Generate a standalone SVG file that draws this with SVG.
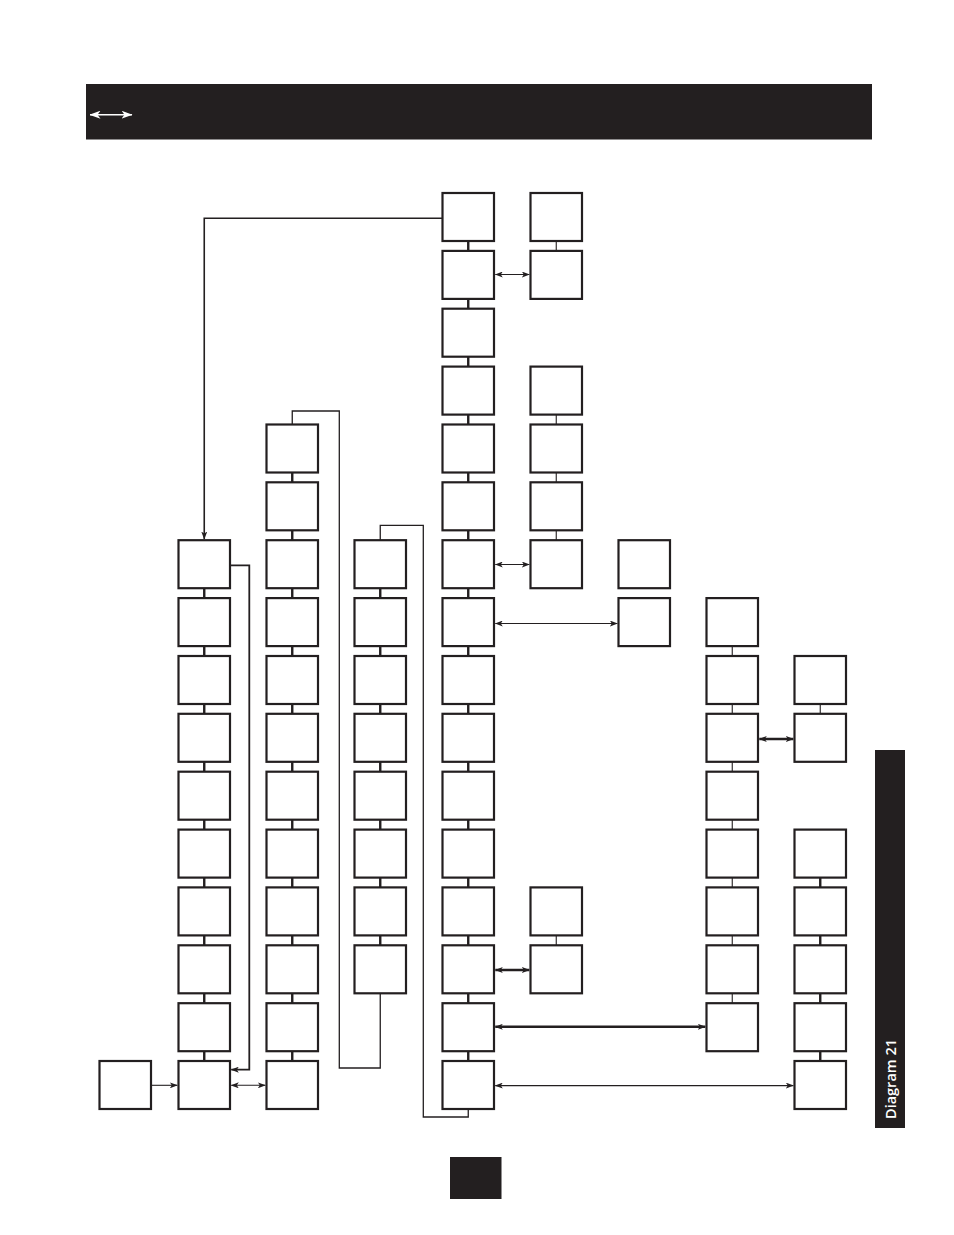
<svg xmlns="http://www.w3.org/2000/svg" width="954" height="1235" viewBox="0 0 954 1235">
<style>
.b{fill:#fff;stroke:#231f20;stroke-width:2.2}
.tk{stroke:#231f20;stroke-width:2.4;fill:none}
.tn{stroke:#231f20;stroke-width:1.1;fill:none}
.lp{stroke:#231f20;stroke-width:1.3;fill:none}
.a1{stroke:#231f20;stroke-width:1.1;fill:none;marker-start:url(#ah);marker-end:url(#ah)}
.a2{stroke:#231f20;stroke-width:2.6;fill:none;marker-start:url(#ah);marker-end:url(#ah)}
.dk{fill:#231f20}
</style>
<defs>
<marker id="ah" viewBox="0 0 8 6" refX="7.5" refY="3" markerWidth="8" markerHeight="6" markerUnits="userSpaceOnUse" orient="auto-start-reverse">
<path d="M0,0 L8,3 L0,6 L2,3 Z" fill="#231f20"/>
</marker>
<marker id="wh" viewBox="0 0 11 8" refX="10.5" refY="4" markerWidth="11" markerHeight="8" markerUnits="userSpaceOnUse" orient="auto-start-reverse">
<path d="M0,0 L11,4 L0,8 L3,4 Z" fill="#fff"/>
</marker>
</defs>
<rect width="954" height="1235" fill="#fff"/>
<g id="header">
<rect x="86" y="84" width="786" height="55.5" class="dk"/>
<line x1="90" y1="114.7" x2="132" y2="114.7" stroke="#fff" stroke-width="1.6" marker-start="url(#wh)" marker-end="url(#wh)"/>
</g>
<g id="sidebar">
<rect x="875" y="750" width="30" height="378" class="dk"/>
<text transform="translate(896,1119) rotate(-90)" font-family="'Open Sans','DejaVu Sans',sans-serif" font-size="14.5" font-weight="600" fill="#fff">Diagram 21</text>
</g>
<g id="page"><rect x="450" y="1157" width="51.5" height="42" class="dk"/></g>
<g id="connectors">
<!-- vertical links col 179 -->
<path class="tk" d="M204.25,588.2V598.1M204.25,646.1V656M204.25,704V713.8M204.25,761.8V771.7M204.25,819.7V829.6M204.25,877.6V887.4M204.25,935.4V945.3M204.25,993.3V1003.2M204.25,1051.2V1061"/>
<!-- col 267 -->
<path class="tk" d="M292.25,472.5V482.3M292.25,530.3V540.2M292.25,588.2V598.1M292.25,646.1V656M292.25,704V713.8M292.25,761.8V771.7M292.25,819.7V829.6M292.25,877.6V887.4M292.25,935.4V945.3M292.25,993.3V1003.2M292.25,1051.2V1061"/>
<!-- col 355 -->
<path class="tk" d="M380.25,588.2V598.1M380.25,646.1V656M380.25,704V713.8M380.25,761.8V771.7M380.25,819.7V829.6M380.25,877.6V887.4M380.25,935.4V945.3"/>
<!-- col 443 -->
<path class="tk" d="M468.25,241V250.9M468.25,298.9V308.7M468.25,356.7V366.6M468.25,414.6V424.5M468.25,472.5V482.3M468.25,530.3V540.2M468.25,588.2V598.1M468.25,646.1V656M468.25,704V713.8M468.25,761.8V771.7M468.25,819.7V829.6M468.25,877.6V887.4M468.25,935.4V945.3M468.25,993.3V1003.2M468.25,1051.2V1061"/>
<!-- col 531 -->
<path class="tn" d="M556.25,241V250.9M556.25,414.6V424.5M556.25,472.5V482.3M556.25,530.3V540.2M556.25,935.4V945.3"/>
<!-- col 707 -->
<path class="tn" d="M732.25,646.1V656M732.25,704V713.8M732.25,761.8V771.7M732.25,819.7V829.6M732.25,877.6V887.4M732.25,935.4V945.3M732.25,993.3V1003.2"/>
<!-- col 795 -->
<path class="tn" d="M820.25,704V713.8"/>
<path class="tk" d="M820.25,877.6V887.4M820.25,935.4V945.3M820.25,993.3V1003.2M820.25,1051.2V1061"/>
<!-- feedback from top -->
<path d="M442.5,218.3H204.25V539" stroke="#231f20" stroke-width="1.6" fill="none" marker-end="url(#ah)"/>
<!-- loop 179 -->
<path d="M230,565.3H249.3V1069.7H231.3" stroke="#231f20" stroke-width="1.8" fill="none" marker-end="url(#ah)"/>
<!-- loop 267-355 -->
<path class="lp" d="M292.25,424.5V411H339.3V1068H380.25V993.3"/>
<!-- loop 355-443 -->
<path class="lp" d="M380.25,540.2V525.3H423.3V1117H468.25V1109"/>
<!-- horizontal arrows -->
<line class="a1" x1="495.3" y1="274.5" x2="529.3" y2="274.5"/>
<line class="a1" x1="495.3" y1="564.5" x2="529.3" y2="564.5"/>
<line class="a1" x1="495.3" y1="623.5" x2="617.3" y2="623.5"/>
<line class="a2" x1="759.3" y1="739" x2="793.3" y2="739"/>
<line class="a2" x1="495.3" y1="970" x2="529.3" y2="970"/>
<line class="a2" x1="495.3" y1="1026.8" x2="705.3" y2="1026.8"/>
<line class="a1" x1="495.3" y1="1085.6" x2="793.3" y2="1085.6"/>
<line x1="151" y1="1085.3" x2="177.3" y2="1085.3" stroke="#231f20" stroke-width="1.1" marker-end="url(#ah)"/>
<line class="a1" x1="231.3" y1="1085.3" x2="265.3" y2="1085.3"/>
</g>
<g id="nodes">
<rect id="n100_15" class="b" x="99.5" y="1061" width="51.5" height="48"/>
<g id="col179">
<rect class="b" x="178.5" y="540.2" width="51.5" height="48"/>
<rect class="b" x="178.5" y="598.1" width="51.5" height="48"/>
<rect class="b" x="178.5" y="656" width="51.5" height="48"/>
<rect class="b" x="178.5" y="713.8" width="51.5" height="48"/>
<rect class="b" x="178.5" y="771.7" width="51.5" height="48"/>
<rect class="b" x="178.5" y="829.6" width="51.5" height="48"/>
<rect class="b" x="178.5" y="887.4" width="51.5" height="48"/>
<rect class="b" x="178.5" y="945.3" width="51.5" height="48"/>
<rect class="b" x="178.5" y="1003.2" width="51.5" height="48"/>
<rect class="b" x="178.5" y="1061" width="51.5" height="48"/>
</g>
<g id="col267">
<rect class="b" x="266.5" y="424.5" width="51.5" height="48"/>
<rect class="b" x="266.5" y="482.3" width="51.5" height="48"/>
<rect class="b" x="266.5" y="540.2" width="51.5" height="48"/>
<rect class="b" x="266.5" y="598.1" width="51.5" height="48"/>
<rect class="b" x="266.5" y="656" width="51.5" height="48"/>
<rect class="b" x="266.5" y="713.8" width="51.5" height="48"/>
<rect class="b" x="266.5" y="771.7" width="51.5" height="48"/>
<rect class="b" x="266.5" y="829.6" width="51.5" height="48"/>
<rect class="b" x="266.5" y="887.4" width="51.5" height="48"/>
<rect class="b" x="266.5" y="945.3" width="51.5" height="48"/>
<rect class="b" x="266.5" y="1003.2" width="51.5" height="48"/>
<rect class="b" x="266.5" y="1061" width="51.5" height="48"/>
</g>
<g id="col355">
<rect class="b" x="354.5" y="540.2" width="51.5" height="48"/>
<rect class="b" x="354.5" y="598.1" width="51.5" height="48"/>
<rect class="b" x="354.5" y="656" width="51.5" height="48"/>
<rect class="b" x="354.5" y="713.8" width="51.5" height="48"/>
<rect class="b" x="354.5" y="771.7" width="51.5" height="48"/>
<rect class="b" x="354.5" y="829.6" width="51.5" height="48"/>
<rect class="b" x="354.5" y="887.4" width="51.5" height="48"/>
<rect class="b" x="354.5" y="945.3" width="51.5" height="48"/>
</g>
<g id="col443">
<rect class="b" x="442.5" y="193" width="51.5" height="48"/>
<rect class="b" x="442.5" y="250.9" width="51.5" height="48"/>
<rect class="b" x="442.5" y="308.7" width="51.5" height="48"/>
<rect class="b" x="442.5" y="366.6" width="51.5" height="48"/>
<rect class="b" x="442.5" y="424.5" width="51.5" height="48"/>
<rect class="b" x="442.5" y="482.3" width="51.5" height="48"/>
<rect class="b" x="442.5" y="540.2" width="51.5" height="48"/>
<rect class="b" x="442.5" y="598.1" width="51.5" height="48"/>
<rect class="b" x="442.5" y="656" width="51.5" height="48"/>
<rect class="b" x="442.5" y="713.8" width="51.5" height="48"/>
<rect class="b" x="442.5" y="771.7" width="51.5" height="48"/>
<rect class="b" x="442.5" y="829.6" width="51.5" height="48"/>
<rect class="b" x="442.5" y="887.4" width="51.5" height="48"/>
<rect class="b" x="442.5" y="945.3" width="51.5" height="48"/>
<rect class="b" x="442.5" y="1003.2" width="51.5" height="48"/>
<rect class="b" x="442.5" y="1061" width="51.5" height="48"/>
</g>
<g id="col531">
<rect class="b" x="530.5" y="193" width="51.5" height="48"/>
<rect class="b" x="530.5" y="250.9" width="51.5" height="48"/>
<rect class="b" x="530.5" y="366.6" width="51.5" height="48"/>
<rect class="b" x="530.5" y="424.5" width="51.5" height="48"/>
<rect class="b" x="530.5" y="482.3" width="51.5" height="48"/>
<rect class="b" x="530.5" y="540.2" width="51.5" height="48"/>
<rect class="b" x="530.5" y="887.4" width="51.5" height="48"/>
<rect class="b" x="530.5" y="945.3" width="51.5" height="48"/>
</g>
<g id="col619">
<rect class="b" x="618.5" y="540.2" width="51.5" height="48"/>
<rect class="b" x="618.5" y="598.1" width="51.5" height="48"/>
</g>
<g id="col707">
<rect class="b" x="706.5" y="598.1" width="51.5" height="48"/>
<rect class="b" x="706.5" y="656" width="51.5" height="48"/>
<rect class="b" x="706.5" y="713.8" width="51.5" height="48"/>
<rect class="b" x="706.5" y="771.7" width="51.5" height="48"/>
<rect class="b" x="706.5" y="829.6" width="51.5" height="48"/>
<rect class="b" x="706.5" y="887.4" width="51.5" height="48"/>
<rect class="b" x="706.5" y="945.3" width="51.5" height="48"/>
<rect class="b" x="706.5" y="1003.2" width="51.5" height="48"/>
</g>
<g id="col795">
<rect class="b" x="794.5" y="656" width="51.5" height="48"/>
<rect class="b" x="794.5" y="713.8" width="51.5" height="48"/>
<rect class="b" x="794.5" y="829.6" width="51.5" height="48"/>
<rect class="b" x="794.5" y="887.4" width="51.5" height="48"/>
<rect class="b" x="794.5" y="945.3" width="51.5" height="48"/>
<rect class="b" x="794.5" y="1003.2" width="51.5" height="48"/>
<rect class="b" x="794.5" y="1061" width="51.5" height="48"/>
</g>
</g>
</svg>
